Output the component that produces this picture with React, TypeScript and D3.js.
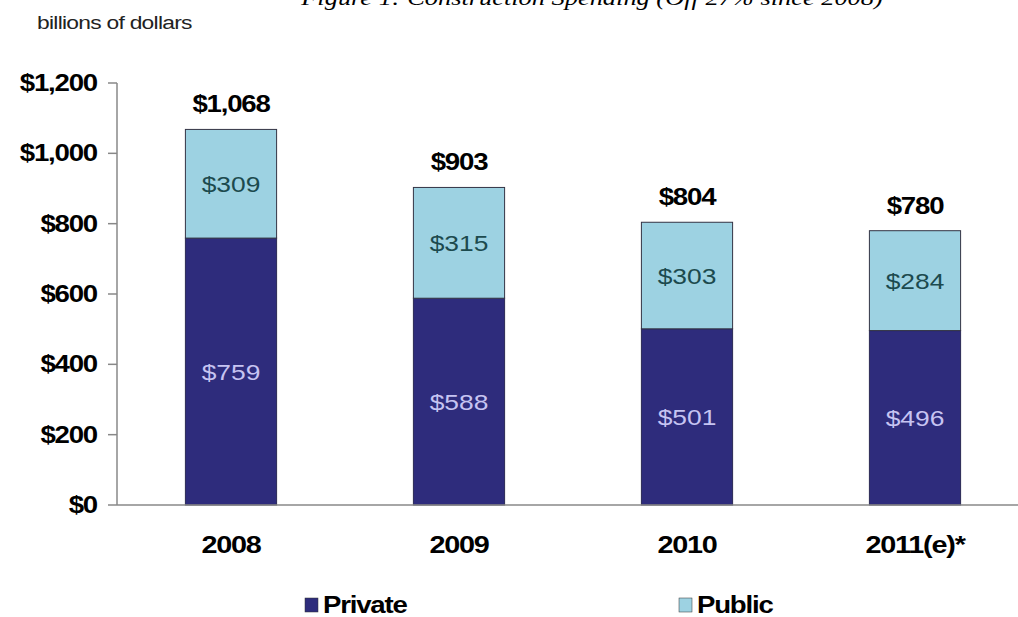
import React from "react";
import * as d3 from "d3";

const years = ["2008", "2009", "2010", "2011(e)*"];
const privateVals = [759, 588, 501, 496];
const publicVals = [309, 315, 303, 284];
const totals = [1068, 903, 804, 780];
const yTicks = [0, 200, 400, 600, 800, 1000, 1200];
const seriesNames = ["Private", "Public"];
const colors = ["#2e2c7c", "#9dd2e2"];

const W = 1018;
const H = 617;
const SX = 1.2; // horizontal stretch of text seen in the reference

const fmt = (v: number) => "$" + d3.format(",")(v);

function T(props: {
  x: number;
  y: number;
  size: number;
  weight?: string;
  anchor?: string;
  fill?: string;
  family?: string;
  style?: string;
  ls?: number;
  children: React.ReactNode;
}) {
  const { x, y, size, weight = "normal", anchor = "middle", fill = "#000", family = "'Liberation Sans', Arial, sans-serif", style = "normal", ls = 0 } = props;
  return (
    <text
      transform={`translate(${x},${y}) scale(${SX},1)`}
      fontSize={size}
      fontWeight={weight}
      textAnchor={anchor}
      fill={fill}
      fontFamily={family}
      fontStyle={style}
      letterSpacing={ls}
    >
      {props.children}
    </text>
  );
}

export default function App() {
  const x = d3.scaleBand<string>().domain(years).range([117, 1029]).paddingInner(0.6).paddingOuter(0.3);
  const y = d3.scaleLinear().domain([0, 1200]).range([505, 83]);
  const stack = years.map((yr, i) => ({ yr, p: privateVals[i], q: publicVals[i], t: totals[i] }));
  const bw = x.bandwidth();

  return (
    <svg width={W} height={H} style={{ position: "absolute", left: 0, top: 0, background: "#fff" }}>
      <T x={592} y={5} size={22} style="italic" family="'Liberation Serif', 'Times New Roman', serif">
        Figure 1: Construction Spending (Off 27% since 2008)
      </T>
      <T x={37} y={29} size={19} anchor="start" fill="#222" ls={-0.6}>
        billions of dollars
      </T>

      {/* y axis */}
      <line x1={117} x2={117} y1={y(1200)} y2={y(0)} stroke="#888" strokeWidth={1.5} />
      {yTicks.map((t) => (
        <g key={t}>
          <line x1={108} x2={117} y1={y(t)} y2={y(t)} stroke="#888" strokeWidth={1.5} />
          <T x={97} y={y(t) + 8} size={23} weight="bold" anchor="end" ls={-1}>
            {fmt(t)}
          </T>
        </g>
      ))}

      {/* bars */}
      {stack.map((d) => {
        const x0 = x(d.yr)!;
        const cx = x0 + bw / 2;
        return (
          <g key={d.yr}>
            <rect x={x0} y={y(d.p)} width={bw} height={y(0) - y(d.p)} fill={colors[0]} stroke="#2a2a55" strokeWidth={1} />
            <rect x={x0} y={y(d.p + d.q)} width={bw} height={y(d.p) - y(d.p + d.q)} fill={colors[1]} stroke="#334" strokeWidth={1} />
            <T x={cx} y={(y(d.p) + y(0)) / 2 + 8} size={22} fill="#c6c4f2">
              {fmt(d.p)}
            </T>
            <T x={cx} y={(y(d.p) + y(d.p + d.q)) / 2 + 8} size={22} fill="#1c4a4e">
              {fmt(d.q)}
            </T>
            <T x={cx} y={y(d.t) - 17} size={23} weight="bold" ls={-1}>
              {fmt(d.t)}
            </T>
          </g>
        );
      })}

      {/* x axis */}
      <line x1={117} x2={W} y1={y(0)} y2={y(0)} stroke="#888" strokeWidth={1.5} />
      {years.map((yr) => (
        <T key={yr} x={x(yr)! + bw / 2} y={553} size={24} weight="bold" ls={-1}>
          {yr}
        </T>
      ))}

      {/* legend */}
      {seriesNames.map((s, i) => {
        const lx = i === 0 ? 305 : 679;
        return (
          <g key={s}>
            <rect x={lx} y={598} width={13} height={14} fill={colors[i]} stroke="#333" strokeWidth={0.5} />
            <T x={lx + 18} y={613} size={23} weight="bold" anchor="start" ls={-1}>
              {s}
            </T>
          </g>
        );
      })}
    </svg>
  );
}
